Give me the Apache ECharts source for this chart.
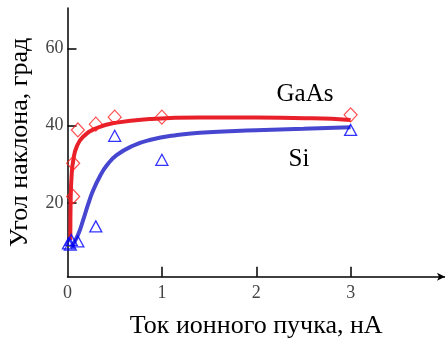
<!DOCTYPE html>
<html><head><meta charset="utf-8">
<script src="https://cdn.jsdelivr.net/npm/echarts@6/dist/echarts.min.js"></script>
<style>html,body{margin:0;padding:0;background:#fff}#c{width:445px;height:338px}</style>
</head><body><div id="c"></div>
<script>
// Measured points (x: ion beam current, nA; y: slope angle, deg)
var gaasPoints = [[0.11,38.9],[0.3,40.4],[0.5,42.2],[1.0,42.2],[0.06,30.3],[0.06,21.7],[3.0,42.8]];
var siPoints = [[0.5,37.4],[1.0,31.2],[0.3,14.0],[0.11,10.1],[0.04,10.5],[0.03,9.3],[0.01,9.6],[3.0,38.9]];
// Fitted curves
var gaasCurve = [[0.03,10.5],[0.034,21.7],[0.045,27.7],[0.062,31.2],[0.098,34.6],[0.168,37.2],[0.31,39.4],[0.52,40.8],[0.87,41.7],[1.4,42.1],[2.0,42.1],[2.6,41.9],[3.0,41.5]];
var siCurve = [[0.03,8.5],[0.06,9.4],[0.115,12],[0.168,15.8],[0.22,19.8],[0.27,23.2],[0.345,27],[0.415,29.7],[0.52,32.4],[0.7,34.9],[0.87,36.3],[1.16,37.6],[1.4,38.2],[2.0,38.8],[2.5,39.2],[3.0,39.6]];
var xTicks = [1,2,3];
var yTicks = [20,40,60];
var xLabels = [0,1,2,3];

var FONT = 'Liberation Serif';
var chart = echarts.init(document.getElementById('c'));
chart.setOption({
  animation:false,
  grid:{left:67.5,right:0,top:8,bottom:61.3,outerBoundsMode:'none',containLabel:false},
  xAxis:{type:'value',min:0,max:4,
    axisLine:{onZero:false,lineStyle:{color:'#000',width:1.5},symbol:['none','arrow'],symbolSize:[6,8]},
    axisTick:{inside:true,length:10,lineStyle:{color:'#000',width:1.5},customValues:xTicks},
    axisLabel:{customValues:xLabels,fontFamily:FONT,fontSize:18,color:'#444',margin:8},
    splitLine:{show:false},
    name:'Ток ионного пучка, нА',nameLocation:'middle',nameGap:36,
    nameTextStyle:{fontFamily:FONT,fontSize:26,color:'#000'}
  },
  yAxis:{type:'value',min:1,max:70.4,
    axisLine:{show:true,onZero:false,lineStyle:{color:'#000',width:1.5}},
    axisTick:{inside:true,length:9,lineStyle:{color:'#000',width:1.5},customValues:yTicks},
    axisLabel:{customValues:yTicks,fontFamily:FONT,fontSize:18,color:'#444',margin:4},
    splitLine:{show:false},
    name:'Угол наклона, град',nameLocation:'middle',nameGap:34,
    nameTextStyle:{fontFamily:FONT,fontSize:26,color:'#000'}
  },
  series:[
    {type:'line',data:gaasCurve,showSymbol:false,smooth:0.5,lineStyle:{color:'#e8202a',width:4},z:2},
    {type:'line',data:siCurve,showSymbol:false,smooth:0.5,lineStyle:{color:'#4646d0',width:4},z:2},
    {type:'scatter',data:gaasPoints,symbol:'diamond',symbolSize:[13,14],
      itemStyle:{color:'rgba(0,0,0,0)',borderColor:'#ff2020',borderWidth:1.2},z:3},
    {type:'scatter',data:siPoints,symbol:'triangle',symbolSize:[12,11],
      itemStyle:{color:'rgba(0,0,0,0)',borderColor:'#0000ff',borderWidth:1.3},z:3}
  ],
  graphic:[
    {type:'text',x:305,y:94,style:{text:'GaAs',font:'25px "Liberation Serif"',fill:'#000',align:'center',verticalAlign:'middle'}},
    {type:'text',x:299,y:159,style:{text:'Si',font:'25px "Liberation Serif"',fill:'#000',align:'center',verticalAlign:'middle'}}
  ]
});
</script></body></html>
